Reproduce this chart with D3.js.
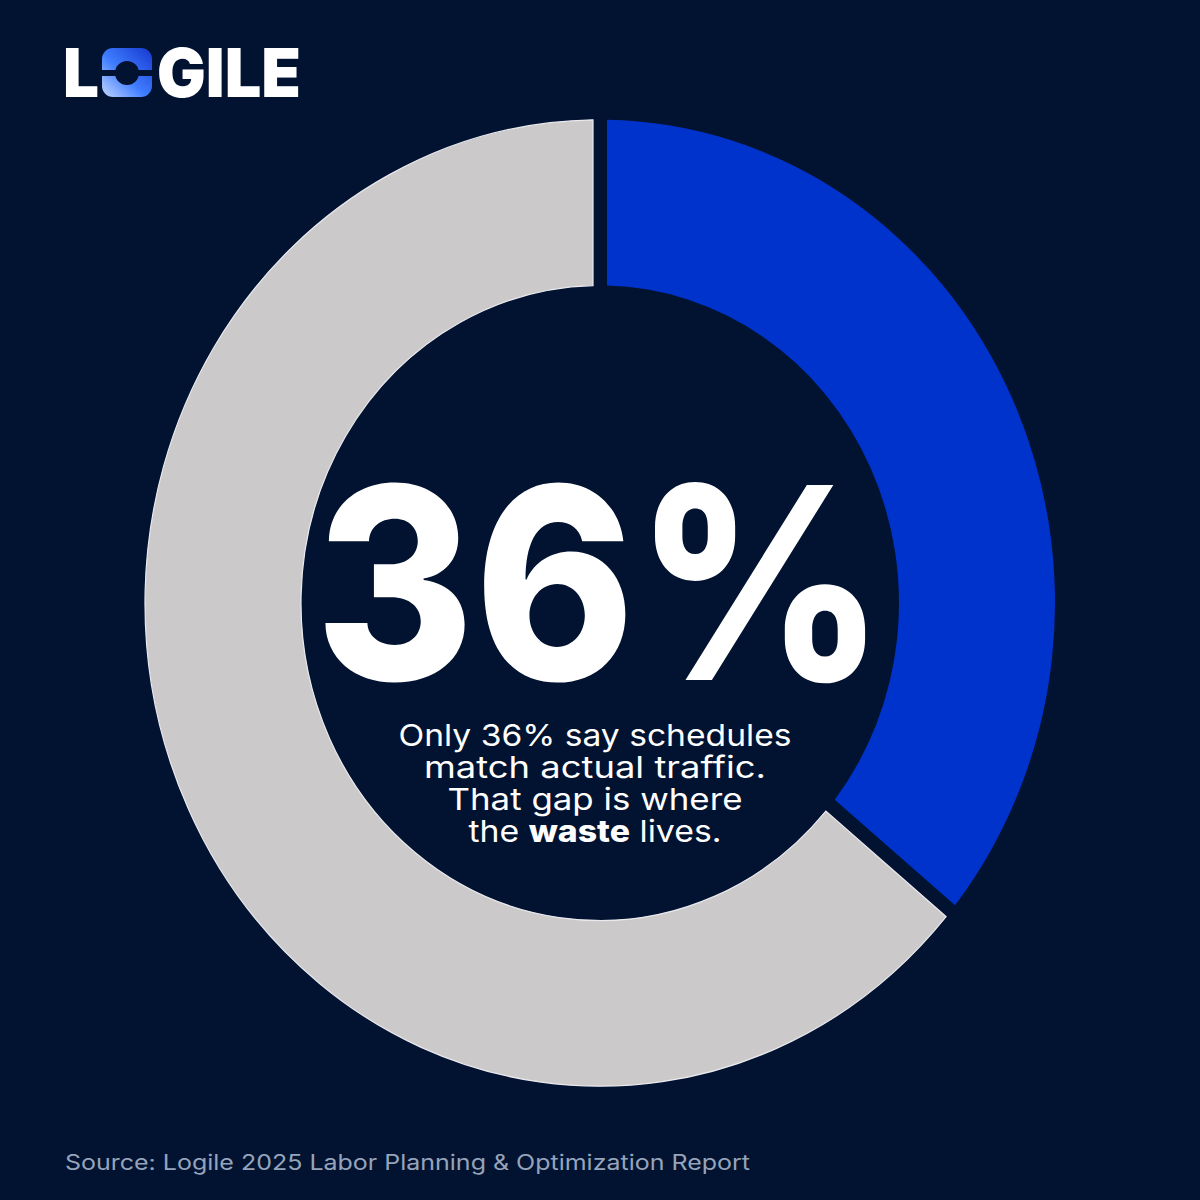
<!DOCTYPE html>
<html>
<head>
<meta charset="utf-8">
<script src="https://cdn.jsdelivr.net/npm/d3@7"></script>
<style>
  html, body { margin: 0; padding: 0; background: #011330; }
  svg { display: block; }
</style>
</head>
<body>
<div id="chart"></div>
<script>
// share of respondents saying schedules match actual traffic
const categories = ["Schedules match traffic", "Do not match"];
const values = [36, 64];
const headline = "36%";
const captionLines = [
  ["Only 36% say schedules"],
  ["match actual traffic."],
  ["That gap is where"],
  ["the ", "waste", " lives."]
];
const sourceText = "Source: Logile 2025 Labor Planning & Optimization Report";

const W = 1200, H = 1200;
const svg = d3.select("#chart").append("svg")
  .attr("width", W)
  .attr("height", H);

svg.append("rect").attr("width", W).attr("height", H).attr("fill", "#011330");

// logo gradient
const defs = svg.append("defs");
const grad = defs.append("linearGradient")
  .attr("id", "logoGrad")
  .attr("x1", "0%").attr("y1", "100%")
  .attr("x2", "100%").attr("y2", "0%");
grad.append("stop").attr("offset", "0%").attr("stop-color", "#c3d6ff");
grad.append("stop").attr("offset", "45%").attr("stop-color", "#3f7dff");
grad.append("stop").attr("offset", "100%").attr("stop-color", "#1638cf");

// donut
const color = d3.scaleOrdinal().domain(categories).range(["#0033cc", "#cbc9ca"]);
const pie = d3.pie().sort(null).value(d => d.value);
const arc = d3.arc()
  .innerRadius(299)
  .outerRadius(455)
  .padRadius(100)
  .padAngle(0.14);

const donut = svg.append("g")
  .attr("transform", "translate(600,603) scale(1,1.062)");

donut.selectAll("path")
  .data(pie(categories.map((c, i) => ({category: c, value: values[i]}))))
  .enter()
  .append("path")
  .attr("d", arc)
  .attr("fill", d => color(d.data.category))
  .attr("stroke", (d, i) => i === 1 ? "#e9e9ee" : "none")
  .attr("stroke-width", 1.2);

// big number
svg.append("text")
  .attr("x", 600)
  .attr("y", 680)
  .attr("text-anchor", "middle")
  .attr("font-family", "Inter, 'Noto Sans', sans-serif")
  .attr("font-weight", 800)
  .attr("font-size", 268)
  .attr("fill", "#ffffff")
  .attr("textLength", 570)
  .attr("lengthAdjust", "spacingAndGlyphs")
  .text(headline);

// caption
const capWidths = [393, 342, 295, 253];
const cap = svg.append("g")
  .attr("font-family", "Inter, 'Noto Sans', sans-serif")
  .attr("font-size", 30)
  .attr("fill", "#ffffff")
  .attr("text-anchor", "middle");

captionLines.forEach((parts, i) => {
  const t = cap.append("text")
    .attr("x", 595)
    .attr("y", 746 + i * 32)
    .attr("textLength", capWidths[i])
    .attr("lengthAdjust", "spacingAndGlyphs");
  parts.forEach(p => {
    t.append("tspan")
      .attr("font-weight", p === "waste" ? 800 : 400)
      .text(p);
  });
});

// source
svg.append("text")
  .attr("x", 65)
  .attr("y", 1170)
  .attr("font-family", "Inter, 'Noto Sans', sans-serif")
  .attr("font-size", 21)
  .attr("fill", "#96a3bb")
  .attr("textLength", 685)
  .attr("lengthAdjust", "spacingAndGlyphs")
  .text(sourceText);

// logo
const logo = svg.append("g");
logo.append("text")
  .attr("x", 63).attr("y", 97)
  .attr("font-family", "Inter, sans-serif")
  .attr("font-weight", 900)
  .attr("font-size", 68)
  .attr("fill", "#ffffff")
  .attr("textLength", 36)
  .attr("lengthAdjust", "spacingAndGlyphs")
  .text("L");

logo.append("rect")
  .attr("x", 102).attr("y", 48)
  .attr("width", 50).attr("height", 49)
  .attr("rx", 11)
  .attr("fill", "url(#logoGrad)");
logo.append("rect")
  .attr("x", 102).attr("y", 70)
  .attr("width", 50).attr("height", 6)
  .attr("fill", "#011330");
logo.append("circle")
  .attr("cx", 127).attr("cy", 73)
  .attr("r", 12)
  .attr("fill", "#011330");

logo.append("text")
  .attr("x", 157).attr("y", 97)
  .attr("font-family", "Inter, sans-serif")
  .attr("font-weight", 900)
  .attr("font-size", 68)
  .attr("fill", "#ffffff")
  .attr("textLength", 144)
  .attr("lengthAdjust", "spacingAndGlyphs")
  .text("GILE");
</script>
</body>
</html>
